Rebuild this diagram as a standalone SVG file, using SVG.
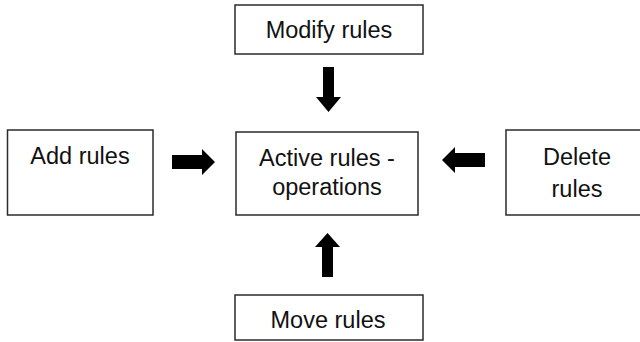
<svg xmlns="http://www.w3.org/2000/svg" width="640" height="342" viewBox="0 0 640 342">
  <style>
    .box { fill: #ffffff; stroke: #2b2b2b; stroke-width: 1.5; }
    .label { font-family: "Liberation Sans", Arial, sans-serif; font-size: 23.5px; fill: #111111; text-anchor: middle; }
    .arrow { fill: #000000; }
  </style>
  <rect x="0" y="0" width="640" height="342" fill="#ffffff"/>

  <g id="modify-rules">
    <rect class="box" x="235" y="5" width="188" height="49"/>
    <text class="label" x="329" y="38">Modify rules</text>
  </g>

  <g id="add-rules">
    <rect class="box" x="7.5" y="130" width="145.5" height="85"/>
    <text class="label" x="80" y="164">Add rules</text>
  </g>

  <g id="active-rules">
    <rect class="box" x="236" y="132" width="182" height="83"/>
    <text class="label" x="327" y="166">Active rules -</text>
    <text class="label" x="327" y="195">operations</text>
  </g>

  <g id="delete-rules">
    <rect class="box" x="506" y="130" width="140" height="85"/>
    <text class="label" x="577" y="165">Delete</text>
    <text class="label" x="577" y="197">rules</text>
  </g>

  <g id="move-rules">
    <rect class="box" x="235" y="295" width="188" height="45"/>
    <text class="label" x="328" y="328">Move rules</text>
  </g>

  <g id="connectors">
    <!-- Modify rules -> Active rules (down) -->
    <polygon class="arrow" points="323,67 334,67 334,97 341,97 328.5,112 316,97 323,97"/>
    <!-- Add rules -> Active rules (right) -->
    <polygon class="arrow" points="172,155 202,155 202,149 215,162 202,175 202,169 172,169"/>
    <!-- Delete rules -> Active rules (left) -->
    <polygon class="arrow" points="485,153 455,153 455,147 442,160 455,173 455,167 485,167"/>
    <!-- Move rules -> Active rules (up) -->
    <polygon class="arrow" points="322,277 333,277 333,247 340,247 327.5,233 315,247 322,247"/>
  </g>
</svg>
